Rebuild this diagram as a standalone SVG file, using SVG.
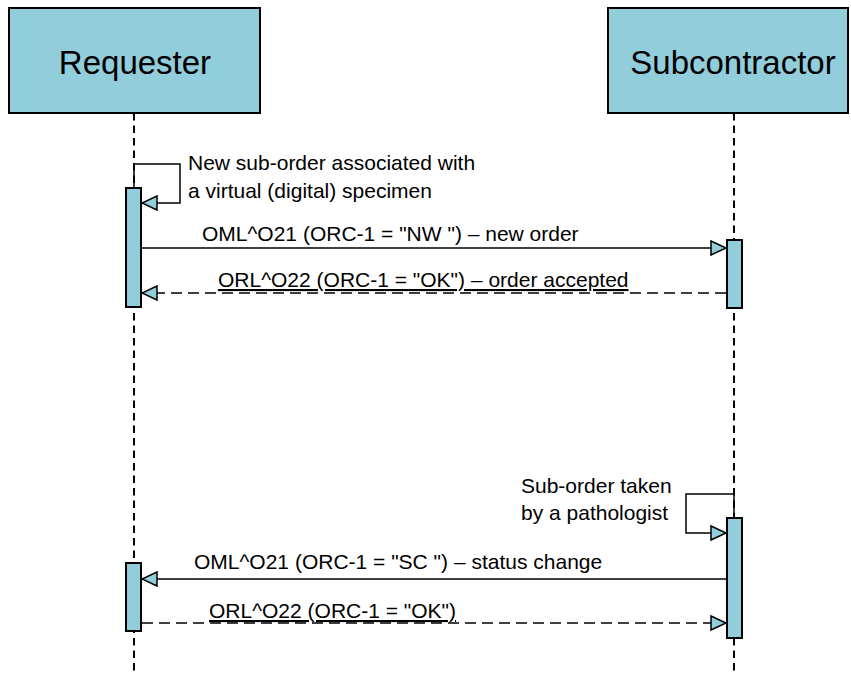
<svg xmlns="http://www.w3.org/2000/svg" width="851" height="675" viewBox="0 0 851 675">
<style>
.box{fill:#92CDDC;stroke:#000;stroke-width:2}
.title{font-family:"Liberation Sans",Arial,sans-serif;font-size:33px;fill:#000;text-anchor:middle}
.life{stroke:#000;stroke-width:2;stroke-dasharray:7.5 5;fill:none}
.bar{fill:#92CDDC;stroke:#000;stroke-width:2}
.msg{stroke:#000;stroke-width:1.5;fill:none;marker-end:url(#arr)}
.dash{stroke-dasharray:11 6}
.lbl{font-family:"Liberation Sans",Arial,sans-serif;font-size:21px;fill:#000}
.ul{text-decoration:underline}
</style>
<defs>
<marker id="arr" markerUnits="userSpaceOnUse" markerWidth="18" markerHeight="18" viewBox="0 0 18 18" refX="16.5" refY="9" orient="auto">
<path d="M1.5,2 L16.5,9 L1.5,16 Z" fill="#92CDDC" stroke="#000" stroke-width="1.5" stroke-dasharray="none"/>
</marker>
</defs>
<rect width="851" height="675" fill="#fff"/>
<g id="requester">
<line class="life" x1="134" y1="113" x2="134" y2="675"/>
<rect class="box" x="9" y="8" width="251" height="105"/>
<text class="title" x="135" y="74">Requester</text>
</g>
<g id="subcontractor">
<line class="life" x1="734" y1="113" x2="734" y2="675"/>
<rect class="box" x="608" y="8" width="240" height="105"/>
<text class="title" x="733" y="74">Subcontractor</text>
</g>
<g id="connectors">
<path class="msg" d="M134,188 V164 H180 V203 H142"/>
<path class="msg" d="M734,518 V494 H686 V533 H726"/>
<line class="msg" x1="142" y1="248" x2="726" y2="248"/>
<line class="msg dash" x1="726" y1="293" x2="142" y2="293"/>
<line class="msg" x1="726" y1="579" x2="142" y2="579"/>
<line class="msg dash" x1="142" y1="623" x2="726" y2="623"/>
<text class="lbl" x="188" y="170">New sub-order associated with</text>
<text class="lbl" x="188" y="198">a virtual (digital) specimen</text>
<text class="lbl" x="202" y="241">OML^O21 (ORC-1 = "NW ") – new order</text>
<text class="lbl ul" x="218" y="287">ORL^O22 (ORC-1 = "OK") – order accepted</text>
<text class="lbl" x="521" y="493">Sub-order taken</text>
<text class="lbl" x="521" y="520">by a pathologist</text>
<text class="lbl" x="194" y="569">OML^O21 (ORC-1 = "SC ") – status change</text>
<text class="lbl ul" x="209" y="618">ORL^O22 (ORC-1 = "OK")</text>
</g>
<g id="activations">
<rect class="bar" x="126" y="188" width="15" height="119"/>
<rect class="bar" x="727" y="240" width="15" height="68"/>
<rect class="bar" x="727" y="518" width="15" height="120"/>
<rect class="bar" x="126" y="563" width="15" height="68"/>
</g>
</svg>
